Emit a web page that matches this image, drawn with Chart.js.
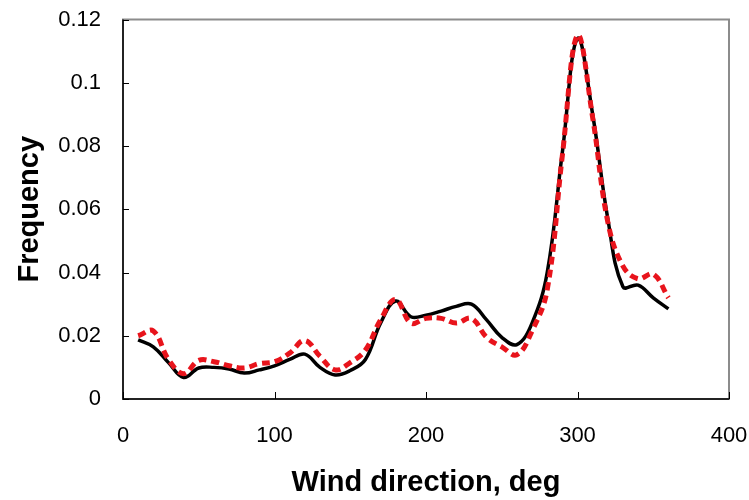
<!DOCTYPE html>
<html lang="en">
<head>
    <meta charset="UTF-8">
    <title>Wind direction frequency</title>
    <script src="https://cdn.jsdelivr.net/npm/chart.js"></script>
    <style>
html, body {
    margin: 0;
    padding: 0;
    background: #fff;
}
#box {
    width: 749px;
    height: 500px;
}
    </style>
</head>
<body>
    <div id="box"><canvas id="windChart"></canvas></div>
    <script>
// wind direction bins, deg
const directions = [10, 20, 30, 40, 50, 60, 70, 80, 90, 100, 110, 120,
    130, 140, 150, 160, 170, 180, 190, 200, 210, 220, 230, 240,
    250, 260, 270, 280, 290, 300, 310, 320, 330, 340, 350, 360];
// solid black series
const freqSolid = [0.0187, 0.0165, 0.0115, 0.0068, 0.0098, 0.0100, 0.0095, 0.0082, 0.0092, 0.0105, 0.0125, 0.0142,
    0.0100, 0.0076, 0.0090, 0.0125, 0.0240, 0.0310, 0.0260, 0.0265, 0.0278, 0.0293, 0.0300, 0.0250,
    0.0195, 0.0172, 0.0240, 0.0400, 0.0780, 0.1140, 0.0900, 0.0570, 0.0355, 0.0360, 0.0320, 0.0285];
// dashed red series
const freqDashed = [0.0200, 0.0215, 0.0125, 0.0080, 0.0122, 0.0118, 0.0105, 0.0098, 0.0112, 0.0118, 0.0145, 0.0185,
    0.0135, 0.0092, 0.0115, 0.0155, 0.0250, 0.0315, 0.0240, 0.0255, 0.0255, 0.0240, 0.0255, 0.0195,
    0.0165, 0.0140, 0.0215, 0.0345, 0.0770, 0.1150, 0.0890, 0.0560, 0.0420, 0.0380, 0.0395, 0.0320];
const xTicks = [0, 100, 200, 300, 400];
const yTicks = [0, 0.02, 0.04, 0.06, 0.08, 0.1, 0.12];

const toPoints = (vals) => directions.map((d, i) => ({x: d, y: vals[i]}));

// box around the plot plus short inward tick marks
const frameAndTicks = {
    id: 'frameAndTicks',
    beforeDatasetsDraw(chart) {
        const {ctx, chartArea: a, scales} = chart;
        ctx.save();
        ctx.strokeStyle = '#8c8c8c';
        ctx.lineWidth = 2;
        ctx.strokeRect(a.left, a.top, a.right - a.left, a.bottom - a.top);
        ctx.strokeStyle = '#000';
        ctx.lineWidth = 1.5;
        ctx.beginPath();
        ctx.moveTo(a.left, a.top);
        ctx.lineTo(a.left, a.bottom);
        ctx.lineTo(a.right, a.bottom);
        ctx.stroke();
        ctx.lineWidth = 1;
        ctx.beginPath();
        yTicks.forEach(v => {
            const y = Math.round(scales.y.getPixelForValue(v)) + 0.5;
            ctx.moveTo(a.left, y);
            ctx.lineTo(a.left + 6, y);
        });
        xTicks.forEach(v => {
            const x = Math.round(scales.x.getPixelForValue(v)) + 0.5;
            ctx.moveTo(x, a.bottom);
            ctx.lineTo(x, a.bottom - 7);
        });
        ctx.stroke();
        ctx.restore();
    }
};

const chart = new Chart(
    document.getElementById('windChart'),
    {
        type: 'line',
        data: {
            datasets: [
                {
                    label: 'Solid',
                    data: toPoints(freqSolid),
                    borderColor: '#000000',
                    borderWidth: 3.5,
                    pointRadius: 0,
                    tension: 0.4,
                    order: 2
                },
                {
                    label: 'Dashed',
                    data: toPoints(freqDashed),
                    borderColor: '#e8141c',
                    borderWidth: 5,
                    borderDash: [8, 5],
                    pointRadius: 0,
                    tension: 0.4,
                    order: 1
                }
            ]
        },
        options: {
            responsive: true,
            maintainAspectRatio: false,
            animation: false,
            layout: { padding: 0 },
            plugins: {
                legend: { display: false },
                tooltip: { enabled: false }
            },
            scales: {
                x: {
                    type: 'linear',
                    min: 0,
                    max: 400,
                    afterFit: (s) => {
                        s.height = 101;
                        s.paddingLeft = 0;
                        s.paddingRight = 20;
                    },
                    afterBuildTicks: (s) => { s.ticks = xTicks.map(v => ({value: v})); },
                    grid: { display: false, drawTicks: false },
                    border: { display: false },
                    ticks: {
                        padding: 24,
                        color: '#000',
                        font: { family: 'Liberation Sans', size: 22 }
                    },
                    title: {
                        display: true,
                        text: 'Wind direction, deg',
                        color: '#000',
                        font: { family: 'Liberation Sans', size: 29, weight: 'bold' },
                        padding: { top: 0, bottom: 0 }
                    }
                },
                y: {
                    min: 0,
                    max: 0.12,
                    afterFit: (s) => {
                        s.width = 123;
                        s.paddingTop = 19.5;
                        s.paddingBottom = 0;
                    },
                    afterBuildTicks: (s) => { s.ticks = yTicks.map(v => ({value: v})); },
                    grid: { display: false, drawTicks: false },
                    border: { display: false },
                    ticks: {
                        padding: 22,
                        color: '#000',
                        font: { family: 'Liberation Sans', size: 22 },
                        callback: (v) => String(+v.toFixed(2))
                    },
                    title: {
                        display: true,
                        text: 'Frequency',
                        color: '#000',
                        font: { family: 'Liberation Sans', size: 29, weight: 'bold' },
                        padding: { top: 13, bottom: 0 }
                    }
                }
            }
        },
        plugins: [frameAndTicks]
    }
);
    </script>
</body>
</html>
